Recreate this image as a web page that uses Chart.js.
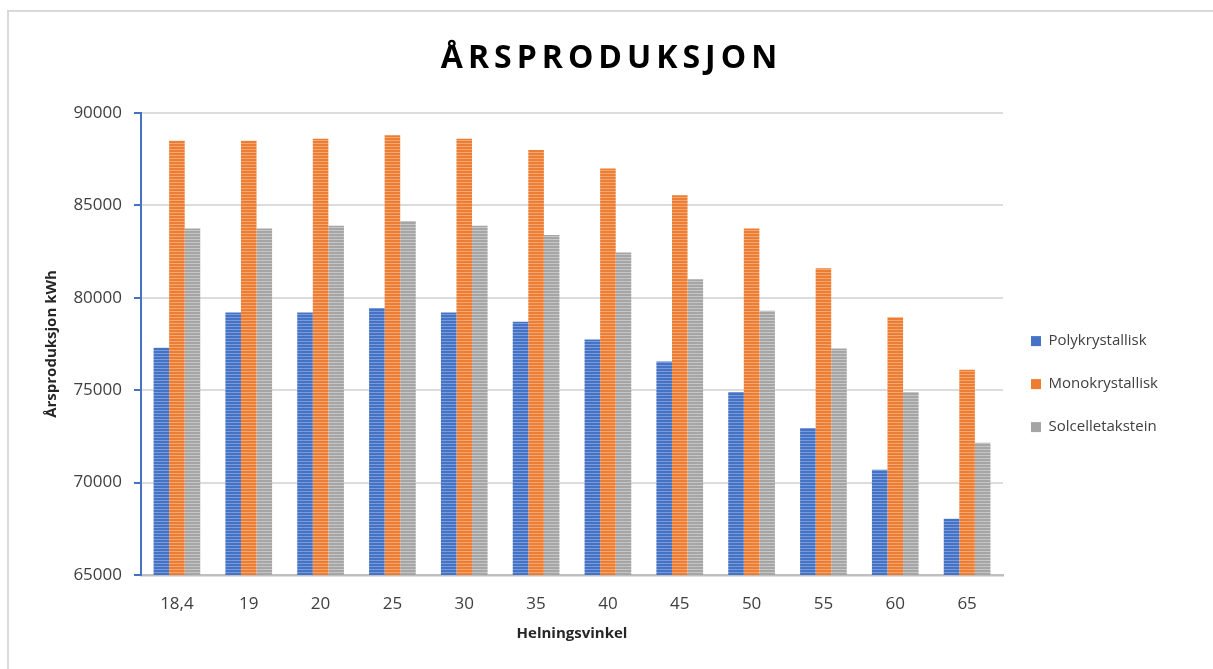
<!DOCTYPE html>
<html>
<head>
<meta charset="utf-8">
<script src="https://cdn.jsdelivr.net/npm/chart.js"></script>
<style>
  html, body { margin: 0; padding: 0; background: #fff; }
  #wrap { position: relative; width: 1213px; height: 669px; overflow: hidden; }
  #frame { position: absolute; left: 7px; top: 10px; width: 1400px; height: 900px;
           border-top: 2px solid #d9d9d9; border-left: 2px solid #d9d9d9; }
  #title { position: absolute; left: 0; top: 36px; width: 1213px; height: 40px; line-height: 40px;
           text-align: center; font-family: "Open Sans", sans-serif; font-weight: bold;
           font-size: 32px; letter-spacing: 5px; padding-left: 10px; box-sizing: border-box; color: #000; }
  canvas { position: absolute; left: 0; top: 0; }
</style>
</head>
<body>
<div id="wrap">
  <div id="frame"></div>
  <canvas id="myChart" width="1213" height="669"></canvas>
  <div id="title">ÅRSPRODUKSJON</div>
</div>
<script>
// values
const categories = ['18,4', '19', '20', '25', '30', '35', '40', '45', '50', '55', '60', '65'];
const polyValues = [77300, 79200, 79200, 79450, 79200, 78700, 77750, 76550, 74900, 72950, 70700, 68050];
const monoValues = [88500, 88500, 88600, 88800, 88600, 88000, 87000, 85550, 83750, 81600, 78950, 76100];
const solValues  = [83750, 83750, 83900, 84150, 83900, 83400, 82450, 81000, 79300, 77250, 74900, 72150];
const seriesNames = ['Polykrystallisk', 'Monokrystallisk', 'Solcelletakstein'];
const yTicks = [65000, 70000, 75000, 80000, 85000, 90000];

const colors = ['#4472c4', '#ed7d31', '#a5a5a5'];
const stripeColors = ['#7b9bd8', '#f3a676', '#c6c6c6'];

// horizontal stripes like the excel bars
function stripes(base, light) {
	let c = document.createElement('canvas')
	c.width = 4
	c.height = 3
	let x = c.getContext('2d')
	x.fillStyle = base
	x.fillRect(0, 0, 4, 3)
	x.fillStyle = light
	x.fillRect(0, 2, 4, 1)
	return x.createPattern(c, 'repeat')
}

const font = "'Open Sans', sans-serif";

new Chart('myChart', {
	type: 'bar',
	data: {
		labels: categories,
		datasets: [
			{ label: seriesNames[0], data: polyValues, backgroundColor: stripes(colors[0], stripeColors[0]) },
			{ label: seriesNames[1], data: monoValues, backgroundColor: stripes(colors[1], stripeColors[1]) },
			{ label: seriesNames[2], data: solValues, backgroundColor: stripes(colors[2], stripeColors[2]) },
		],
	},
	options: {
		responsive: false,
		animation: false,
		categoryPercentage: 0.65,
		barPercentage: 1.0,
		layout: { padding: { top: 113, right: 45, bottom: 26, left: 39 } },
		plugins: {
			title: { display: false },
			tooltip: { enabled: false },
			legend: {
				position: 'right',
				// empty title only to push the items a bit lower
				title: { display: true, text: '', font: { size: 1 }, padding: { top: 11, bottom: 0 } },
				labels: {
					boxWidth: 10,
					boxHeight: 10,
					padding: 28,
					color: '#404040',
					font: { family: font, size: 15 },
					generateLabels: function(chart) {
						let items = Chart.defaults.plugins.legend.labels.generateLabels(chart)
						items.forEach((it, i) => {
							it.fillStyle = colors[i]
							it.strokeStyle = colors[i]
							it.lineWidth = 0
						})
						return items
					},
				},
			},
		},
		scales: {
			x: {
				grid: { display: false, drawTicks: false, tickLength: 0 },
				border: { display: true, color: '#bfbfbf', width: 2.5 },
				afterFit: function(scale) {
					scale.height = 68
				},
				ticks: { color: '#404040', padding: 19, font: { family: font, size: 17 } },
				title: {
					display: true,
					text: 'Helningsvinkel',
					color: '#262626',
					padding: { top: 10, bottom: 0 },
					font: { family: font, size: 15, weight: 'bold' },
				},
			},
			y: {
				min: 65000,
				max: 90000,
				afterBuildTicks: function(scale) {
					scale.ticks = yTicks.map(v => ({ value: v }))
				},
				afterFit: function(scale) {
					scale.width = 102
				},
				grid: { color: '#dcdcdc', lineWidth: 2, tickColor: '#4472c4', tickLength: 7, tickWidth: 2 },
				border: { display: true, color: '#4472c4', width: 2 },
				ticks: {
					color: '#404040',
					padding: 12,
					font: { family: font, size: 17 },
					callback: v => String(v),
				},
				title: {
					display: true,
					text: 'Årsproduksjon kWh',
					color: '#262626',
					font: { family: font, size: 15, weight: 'bold' },
				},
			},
		},
	},
});
</script>
</body>
</html>
